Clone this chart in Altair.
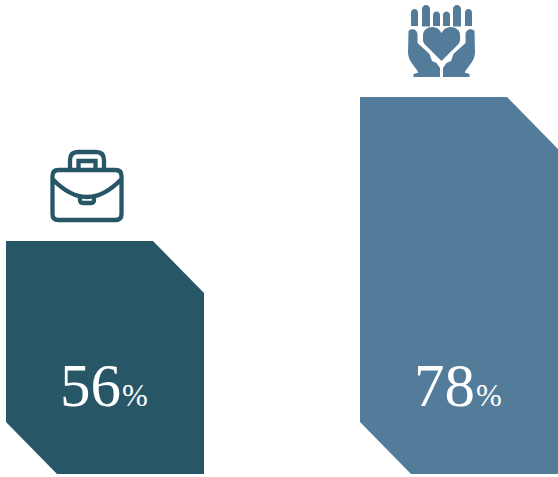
import altair as alt
import pandas as pd

# Chart values
labels = ["Work", "Care"]
values = [56, 78]
colors = ["#275667", "#537B9A"]

# Scale set-up, in pixels
W, H = 558, 477
BASE_VALUE = 20.4      # value sitting on the common bottom edge
PX_PER_UNIT = 6.545
SLOT = 354             # distance between the two bars' left edges
LEFT = 6
BOTTOM = 474
BAR_W = 198
CUT_X = 51
CUT_Y = 52

x_dom = [-LEFT, W - LEFT]
y_dom = [BASE_VALUE - (H - BOTTOM) / PX_PER_UNIT, BASE_VALUE + BOTTOM / PX_PER_UNIT]
x_scale = alt.Scale(domain=x_dom, nice=False, zero=False)
y_scale = alt.Scale(domain=y_dom, nice=False, zero=False)
cut_v = CUT_Y / PX_PER_UNIT


def pill(x0, x1, top, bottom):
    r = (x1 - x0) / 2
    return f"M{x0} {bottom}V{top + r}A{r} {r} 0 0 1 {x1} {top + r}V{bottom}Z"


# Hands-and-heart icon, drawn around its own centre
finger_spans = [(-30.5, -23.5, -32, -15), (-19.5, -11.5, -36, -14.5), (-8.5, -1.5, -29.5, -15)]
hand_parts = []
for a, b, t, bt in finger_spans:
    hand_parts.append(pill(a, b, t, bt))
    hand_parts.append(pill(-b, -a, t, bt))
hand_parts.append(
    "M0 20L-17 3C-19 1 -18.5 -2 -18.5 -6C-18.5 -11 -14 -14 -9 -14C-5 -14 -2 -12 0 -8"
    "C2 -12 5 -14 9 -14C14 -14 18.5 -11 18.5 -6C18.5 -2 19 1 17 3Z"
)
hand_left = (
    "M-33 -10C-30 -13 -24 -12 -24 -6L-24 2L-12 13L-9.5 20L-5 22L-1.5 27V36H-28V33L-23 31.5"
    "C-27 25 -33 20 -33.5 12Z"
)
hand_right = (
    "M33 -10C30 -13 24 -12 24 -6L24 2L12 13L9.5 20L5 22L1.5 27V36H28V33L23 31.5"
    "C27 25 33 20 33.5 12Z"
)
hands_path = "".join(hand_parts) + hand_left + hand_right

# Briefcase icon, stroked outline
case_path = (
    "M-28.5 -15H28.5Q34.5 -15 34.5 -9V29Q34.5 35 28.5 35H-28.5Q-34.5 35 -34.5 29V-9Q-34.5 -15 -28.5 -15Z"
    "M-34.5 -6Q0 30 34.5 -6"
    "M-17 -15V-25Q-17 -33 -9 -33H9Q17 -33 17 -25V-15"
    "M-8.5 -15V-24H8.5V-15"
    "M-7 11V15Q-7 18 -4 18H4Q7 18 7 15V11"
)

# Chamfered bar outlines: top-right and bottom-left corners are cut
rows = []
for i, (lab, v) in enumerate(zip(labels, values)):
    x0 = i * SLOT
    xs = [x0, x0 + CUT_X, x0 + BAR_W - CUT_X, x0 + BAR_W]
    tops = [v, v, v, v - cut_v]
    bots = [BASE_VALUE + cut_v, BASE_VALUE, BASE_VALUE, BASE_VALUE]
    for x, t, b in zip(xs, tops, bots):
        rows.append({"label": lab, "x": x, "top": t, "bottom": b})
outline = pd.DataFrame(rows)

color_scale = alt.Scale(domain=labels, range=colors)
X = alt.X("x:Q", scale=x_scale, axis=None)

bars = alt.Chart(outline).mark_area(opacity=1, interpolate="linear").encode(
    X,
    y=alt.Y("top:Q", scale=y_scale, axis=None),
    y2="bottom:Q",
    color=alt.Color("label:N", scale=color_scale, legend=None),
)

text_y = BASE_VALUE + (BOTTOM - 406) / PX_PER_UNIT
anno = pd.DataFrame(
    {
        "label": labels,
        "value": values,
        "num": [str(v) for v in values],
        "pct": ["%"] * len(values),
        "num_x": [i * SLOT + 115 for i in range(len(values))],
        "pct_x": [i * SLOT + 116 for i in range(len(values))],
        "text_y": [text_y] * len(values),
        "icon_x": [i * SLOT + 81 + 0.5 * i for i in range(len(values))],
        "icon_y": [v + 56 / PX_PER_UNIT for v in values],
    }
)

Y_TEXT = alt.Y("text_y:Q", scale=y_scale, axis=None)
numbers = alt.Chart(anno).mark_text(
    font="Liberation Serif", fontSize=61, color="white", align="right", baseline="alphabetic"
).encode(alt.X("num_x:Q", scale=x_scale, axis=None), Y_TEXT, text="num:N")
percents = alt.Chart(anno).mark_text(
    font="Liberation Serif", fontSize=31, color="white", align="left", baseline="alphabetic"
).encode(alt.X("pct_x:Q", scale=x_scale, axis=None), Y_TEXT, text="pct:N")

ICON_SIZE = 4
Y_ICON = alt.Y("icon_y:Q", scale=y_scale, axis=None)
X_ICON = alt.X("icon_x:Q", scale=x_scale, axis=None)
case_icon = alt.Chart(anno[anno.label == "Work"]).mark_point(
    shape=case_path, size=ICON_SIZE, filled=False, stroke=colors[0], strokeWidth=4.3, opacity=1
).encode(X_ICON, Y_ICON)
hands_icon = alt.Chart(anno[anno.label == "Care"]).mark_point(
    shape=hands_path, size=ICON_SIZE, filled=True, fill=colors[1], strokeWidth=0, opacity=1
).encode(X_ICON, Y_ICON)

chart = (
    alt.layer(bars, numbers, percents, case_icon, hands_icon)
    .properties(width=W, height=H, padding=0, autosize=alt.AutoSizeParams(type="none"), background="white")
    .configure_view(stroke=None)
)
chart.save("out.html", embed_options={"renderer": "svg", "actions": False})
